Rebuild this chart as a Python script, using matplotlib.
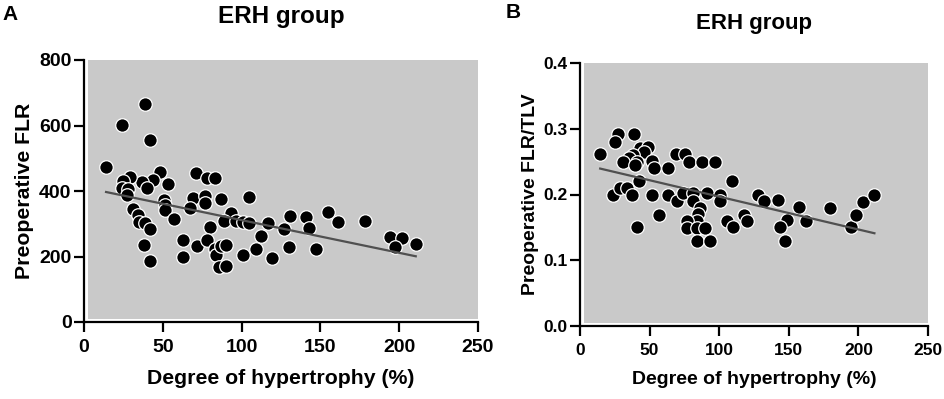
import numpy as np
import matplotlib
matplotlib.use("Agg")
import matplotlib.pyplot as plt
from matplotlib.patches import Rectangle

plt.rcParams['font.family'] = ['Liberation Sans', 'DejaVu Sans']
plt.rcParams['font.weight'] = 'bold'

# Panel A: degree of hypertrophy (%) vs preoperative FLR
a_x = [14, 24, 39, 42, 48, 43.5, 36.5, 40, 29, 25, 24, 28, 27.5, 53, 51, 51.5, 51.5, 57,
       31, 34, 35, 38.5, 42, 38, 42, 71, 78, 83, 69, 76.5, 76.5, 67, 87, 104.5, 93, 89,
       96.5, 101, 105, 80, 116.5, 112.5, 131, 127, 141, 143, 155, 161, 178.5, 194, 202,
       210.5, 197.5, 130, 147, 63, 63, 72, 78, 83, 84, 87, 90, 85.5, 90, 101, 109, 119]
a_y = [472, 602, 667, 555, 459, 433, 426, 408, 444, 431, 408, 405, 387, 420, 374, 357, 341, 313,
       344, 328, 306, 303, 284, 236, 187, 454, 441, 439, 379, 385, 364, 347, 376, 382, 333, 308,
       308, 305, 303, 290, 303, 264, 325, 285, 320, 286, 335, 306, 308, 261, 256,
       239, 228, 229, 222, 249, 200, 233, 251, 222, 205, 231, 234, 167, 171, 205, 223, 195]

# Panel B: degree of hypertrophy (%) vs preoperative FLR/TLV
b_x = [14.5, 27.5, 25, 39, 43.2, 49.2, 46, 38.4, 35.5, 31.2, 40.8, 39.6, 51.5, 53, 63.5, 69,
       75.5, 78.5, 88, 97, 42.5, 109.5, 24, 29, 33.5, 37, 52, 63.5, 69.5, 74, 81.5, 91,
       100.5, 100.5, 81.5, 86, 85, 84, 77, 77, 84, 90, 84, 93.5, 57, 41, 105.5, 110,
       117.5, 120, 128, 132, 142, 157, 148.5, 144, 162.5, 147.5, 179.5, 194.5, 198.5,
       203.5, 211.5]
b_y = [0.261, 0.292, 0.280, 0.292, 0.271, 0.273, 0.265, 0.260, 0.255, 0.249, 0.250, 0.245,
       0.251, 0.240, 0.240, 0.261, 0.261, 0.250, 0.250, 0.250, 0.221, 0.221, 0.200, 0.210,
       0.210, 0.200, 0.200, 0.200, 0.190, 0.202, 0.202, 0.202, 0.200, 0.190, 0.190, 0.180,
       0.170, 0.160, 0.159, 0.149, 0.149, 0.149, 0.129, 0.129, 0.169, 0.150, 0.159, 0.151,
       0.169, 0.159, 0.200, 0.190, 0.191, 0.181, 0.161, 0.151, 0.160, 0.129, 0.180, 0.150,
       0.169, 0.189, 0.200]

x_ticks = [0, 50, 100, 150, 200, 250]
a_yticks = [0, 200, 400, 600, 800]
b_yticks = [0.0, 0.1, 0.2, 0.3, 0.4]
b_yticklabels = ['0.0', '0.1', '0.2', '0.3', '0.4']

W, H = 945, 399
fig = plt.figure(figsize=(W / 100, H / 100), dpi=100)

def px_axes(l, t, r, b):
    return fig.add_axes([l / W, 1 - b / H, (r - l) / W, (b - t) / H])

axA = px_axes(84, 60, 478, 322)
axB = px_axes(580, 63, 928, 326)

GRAY = '#c9c9c9'

def style(ax, xs, ys, yticks, yticklabels, ylim, ylabel, tsize, lsize, ylabelpad):
    ax.set_facecolor('white')
    ax.add_patch(Rectangle((0.011, 0.012), 0.989, 0.988, transform=ax.transAxes,
                           facecolor=GRAY, edgecolor='none', zorder=0))
    ax.scatter(xs, ys, s=95, c='black', edgecolors='white', linewidths=0.9, zorder=3)
    k, c0 = np.polyfit(xs, ys, 1)
    xl = np.array([min(xs), max(xs)])
    ax.plot(xl, k * xl + c0, color='#505050', lw=1.6, zorder=4)
    ax.set_xlim(0, 250)
    ax.set_ylim(*ylim)
    ax.set_xticks(x_ticks)
    ax.set_xticklabels([str(v) for v in x_ticks])
    ax.set_yticks(yticks)
    ax.set_yticklabels(yticklabels)
    for s in ['top', 'right']:
        ax.spines[s].set_visible(False)
    for s in ['left', 'bottom']:
        ax.spines[s].set_linewidth(1.6)
    ax.tick_params(direction='out', length=7.5, width=1.6, labelsize=tsize)
    ax.tick_params(axis='x', pad=5)
    ax.tick_params(axis='y', pad=1.5)
    for lab in ax.get_xticklabels() + ax.get_yticklabels():
        lab.set_fontweight('bold')
    ax.set_xlabel('Degree of hypertrophy (%)', fontsize=lsize, fontweight='bold', labelpad=9)
    ax.set_ylabel(ylabel, fontsize=lsize, fontweight='bold', labelpad=ylabelpad)

style(axA, a_x, a_y, a_yticks, [str(v) for v in a_yticks], (0, 800),
      'Preoperative FLR', 14, 15.3, 4)
style(axB, b_x, b_y, b_yticks, b_yticklabels, (0, 0.4),
      'Preoperative FLR/TLV', 12.5, 14, 3)

fig.text(281 / W, 1 - 17 / H, 'ERH group', fontsize=17.5, fontweight='bold', ha='center', va='center')
fig.text(754 / W, 1 - 24 / H, 'ERH group', fontsize=16, fontweight='bold', ha='center', va='center')

fig.text(10 / W, 1 - 15 / H, 'A', fontsize=15, fontweight='bold', ha='center', va='center')
fig.text(513 / W, 1 - 12 / H, 'B', fontsize=15, fontweight='bold', ha='center', va='center')

fig.savefig('out.png', dpi=100)
